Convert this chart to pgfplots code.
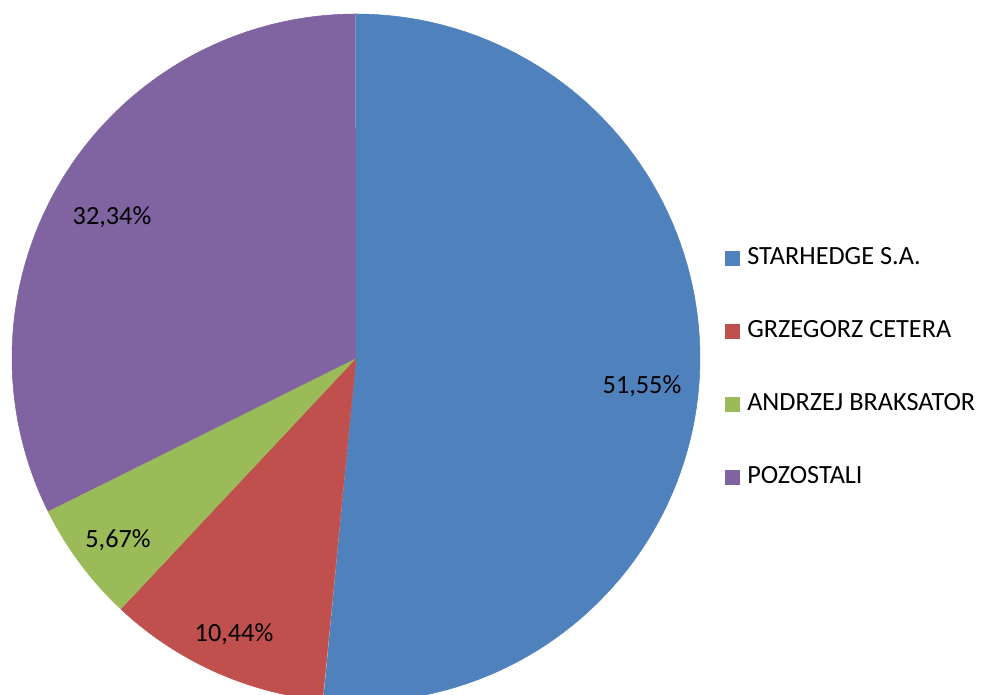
\documentclass[border=0pt]{standalone}
\usepackage{fontspec}
\setmainfont{Carlito}
\usepackage{pgfplots}
\pgfplotsset{compat=1.18}
\definecolor{cA}{HTML}{4F81BD}
\definecolor{cB}{HTML}{C0504D}
\definecolor{cC}{HTML}{9BBB59}
\definecolor{cD}{HTML}{8064A2}
% pie: centre (356,337) in pixel units, radius 344
% slice(cumulative start %, share %)
\newcommand\pieslice[3]{%
  \addplot[fill=#3, draw=#3, line width=0.4pt, line join=round, variable=\t, samples at={-1,0,0.01,...,1.0001}]
    ({\t<0 ? 356 : 356+344*cos(90-3.6*(#1+\t*#2))},
     {\t<0 ? 337 : 337+344*sin(90-3.6*(#1+\t*#2))});
}
\begin{document}
\begin{tikzpicture}
\useasboundingbox (0,0) rectangle (741pt,521.25pt);
\begin{axis}[
  at={(0,0)}, anchor=south west,
  scale only axis, width=741pt, height=521.25pt,
  xmin=0, xmax=988, ymin=0, ymax=695,
  hide axis, clip=true,
  font=\fontsize{19.7}{23}\selectfont,
  legend image code/.code={\fill[#1, draw=none] (0pt,-5.6pt) rectangle (11.25pt,5.6pt);},
  legend style={at={(axis cs:725,695-246)}, anchor=north west, draw=none, fill=none,
    font=\fontsize{19.7}{23}\selectfont, row sep=36.75pt, inner sep=0pt,
    nodes={inner sep=0pt, text height=13.5pt, text depth=4.5pt, anchor=west},
    /tikz/every odd column/.append style={column sep=5.25pt}},
  legend cell align=left,
]
\pieslice{0}{51.55}{cA}
\pieslice{51.55}{10.44}{cB}
\pieslice{61.99}{5.67}{cC}
\pieslice{67.66}{32.34}{cD}
\legend{STARHEDGE S.A., GRZEGORZ CETERA, ANDRZEJ BRAKSATOR, POZOSTALI}
\node at (axis cs:642,309) {51,55\%};
\node at (axis cs:234,61) {10,44\%};
\node at (axis cs:118,155) {5,67\%};
\node at (axis cs:112,478) {32,34\%};
\end{axis}
\end{tikzpicture}
\end{document}
